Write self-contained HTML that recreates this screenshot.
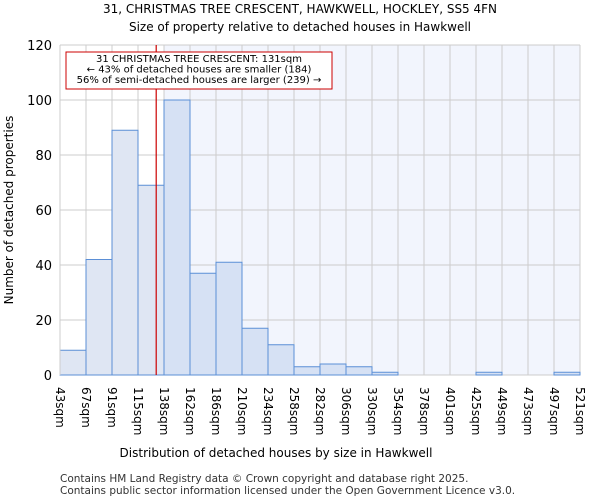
<!DOCTYPE html>
<html><head><meta charset="utf-8"><style>
body{margin:0;background:#fff;font-family:"DejaVu Sans","Liberation Sans",sans-serif}
</style></head><body>
<svg width="600" height="500" xmlns="http://www.w3.org/2000/svg" font-family="DejaVu Sans, Liberation Sans, sans-serif">
<text x="300" y="13" font-size="12" text-anchor="middle">31, CHRISTMAS TREE CRESCENT, HAWKWELL, HOCKLEY, SS5 4FN</text>
<text x="300" y="31" font-size="12" text-anchor="middle">Size of property relative to detached houses in Hawkwell</text>
<g id="plot"></g>
<text x="276" y="457" font-size="12" text-anchor="middle">Distribution of detached houses by size in Hawkwell</text>
<text transform="translate(13,210) rotate(-90)" font-size="12" text-anchor="middle">Number of detached properties</text>
<text x="60" y="482" font-size="10.5" fill="#333">Contains HM Land Registry data © Crown copyright and database right 2025.</text>
<text x="60" y="494" font-size="10.5" fill="#333">Contains public sector information licensed under the Open Government Licence v3.0.</text>
</svg>
<script>
const binLabels=["43sqm","67sqm","91sqm","115sqm","138sqm","162sqm","186sqm","210sqm","234sqm","258sqm","282sqm","306sqm","330sqm","354sqm","378sqm","401sqm","425sqm","449sqm","473sqm","497sqm","521sqm"];
const counts=[9,42,89,69,100,37,41,17,11,3,4,3,1,0,0,0,1,0,0,1];
const yTicks=[0,20,40,60,80,100,120];
const propertyBinPos=3.7;
const NS="http://www.w3.org/2000/svg";
const g=document.getElementById('plot');
const X0=60,X1=580,Y0=375,Y1=45,YMAX=120;
const bw=(X1-X0)/counts.length;
const xs=i=>X0+i*bw;
const ys=v=>Y0-(v/YMAX)*(Y0-Y1);
function mk(t,a){const e=document.createElementNS(NS,t);for(const k in a)e.setAttribute(k,a[k]);g.appendChild(e);return e;}
const split=xs(Math.ceil(propertyBinPos));
let e;
e=mk('rect',{x:split,y:Y1,width:X1-split,height:Y0-Y1,fill:'#f2f5fd'});


for(let i=0;i<=counts.length;i++){e=mk('line',{x1:xs(i),x2:xs(i),y1:Y1,y2:Y0,stroke:'#ccc'});

}
yTicks.forEach(t=>{e=mk('line',{x1:X0,x2:X1,y1:ys(t),y2:ys(t),stroke:'#ccc'});


e=mk('text',{x:X0-8,y:ys(t)+5,'font-size':13,'text-anchor':'end'});e.textContent=t;

});
counts.forEach((c,i)=>{if(c<=0)return;e=mk('rect',{x:xs(i),y:ys(c),width:bw,height:Y0-ys(c),fill:i<Math.ceil(propertyBinPos)?'#dfe6f3':'#d6e1f4',stroke:'#5b8fd6','stroke-width':1});

});
binLabels.forEach((l,i)=>{e=mk('text',{transform:`translate(${xs(i)-4},${Y0+12}) rotate(90)`,'font-size':12});e.textContent=l;

});
e=mk('line',{x1:X0,x2:X0,y1:Y1,y2:Y0,stroke:'#ccc'});


const mx=xs(propertyBinPos);
e=mk('line',{x1:mx,x2:mx,y1:Y1,y2:Y0,stroke:'#cc0000','stroke-width':1.2});


e=mk('rect',{x:66,y:52,width:266,height:37,fill:'#fff',stroke:'#cc0000'});


["31 CHRISTMAS TREE CRESCENT: 131sqm","← 43% of detached houses are smaller (184)","56% of semi-detached houses are larger (239) →"].forEach((t,i)=>{
e=mk('text',{x:199,y:62+i*10.5,'font-size':10,'text-anchor':'middle'});e.textContent=t;

});
</script>
</body></html>
